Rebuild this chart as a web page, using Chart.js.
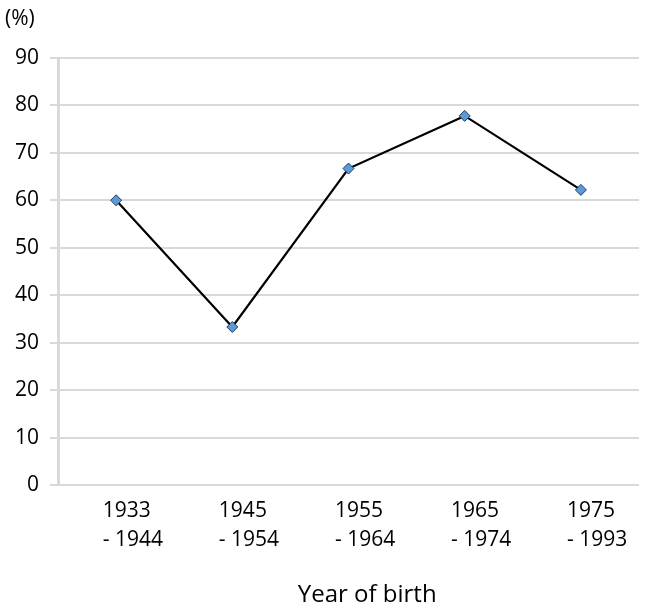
<!DOCTYPE html>
<html>
<head>
<meta charset="utf-8">
<script src="https://cdn.jsdelivr.net/npm/chart.js@4/dist/chart.umd.min.js"></script>
<style>
  html, body { margin: 0; padding: 0; background: #ffffff; }
  #wrap { width: 662px; height: 609px; }
</style>
</head>
<body>
<div id="wrap"><canvas id="c" width="662" height="609"></canvas></div>
<script>
// ---- data ----
const categories = [
  ["1933", "- 1944"],
  ["1945", "- 1954"],
  ["1955", "- 1964"],
  ["1965", "- 1974"],
  ["1975", "- 1993"]
];
const percentValues = [60, 33.3, 66.7, 77.8, 62.2];
const yTicks = [0, 10, 20, 30, 40, 50, 60, 70, 80, 90];
const unitLabel = "(%)";
const xAxisTitle = "Year of birth";

Chart.defaults.font.family = "'Open Sans', sans-serif";
Chart.defaults.color = "#000000";

new Chart(document.getElementById('c'), {
  type: 'line',
  data: {
    labels: categories.map(c => c.join(' ')),
    datasets: [{
      data: percentValues,
      borderColor: '#000000',
      borderWidth: 2.2,
      tension: 0,
      fill: false,
      pointStyle: 'rectRot',
      pointRadius: 5.5,
      pointHoverRadius: 5.5,
      pointBackgroundColor: '#5b9bd5',
      pointBorderColor: '#1f3864',
      pointBorderWidth: 1,
      xAxisID: 'x',
      yAxisID: 'y'
    }]
  },
  options: {
    responsive: false,
    animation: false,
    devicePixelRatio: 1,
    layout: { padding: { left: 5, right: 23, top: 0, bottom: 0 } },
    plugins: {
      legend: { display: false },
      tooltip: { enabled: false },
      title: {
        display: true,
        text: unitLabel,
        align: 'start',
        color: '#000000',
        font: { size: 21, weight: 'normal', lineHeight: 1.2 },
        padding: { top: 6, bottom: 26.8 }
      }
    },
    scales: {
      x: {
        type: 'category',
        display: false,
        offset: true
      },
      xl: {
        type: 'linear',
        position: 'bottom',
        min: -0.386,
        max: 4.62,
        grid: { display: false, drawTicks: false },
        border: { display: false },
        ticks: {
          stepSize: 1,
          includeBounds: false,
          autoSkip: false,
          maxRotation: 0,
          align: 'start',
          padding: 12,
          color: '#000000',
          font: { size: 21, lineHeight: 1.37 },
          callback: (v) => (Number.isInteger(v) && categories[v]) ? categories[v] : ''
        },
        title: {
          display: true,
          text: '      ' + xAxisTitle,
          color: '#000000',
          font: { size: 24, lineHeight: 1.0 },
          padding: { top: 17, bottom: 1.5 }
        }
      },
      y: {
        min: 0,
        max: 90,
        afterFit: (scale) => { scale.width = 53; },
        afterBuildTicks: (scale) => { scale.ticks = yTicks.map(v => ({ value: v })); },
        grid: {
          color: '#d9d9d9',
          lineWidth: 2,
          tickLength: 8,
          drawTicks: true
        },
        border: { display: true, color: '#d9d9d9', width: 3 },
        ticks: {
          padding: 11,
          color: '#000000',
          font: { size: 21, lineHeight: 1.2 }
        }
      }
    }
  }
});
</script>
</body>
</html>
